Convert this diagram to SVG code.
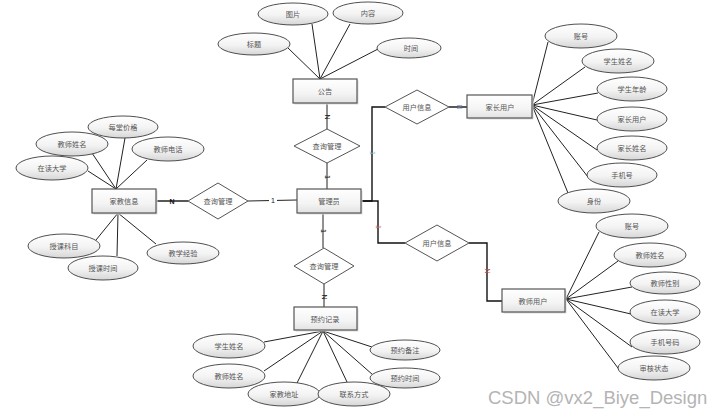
<svg xmlns="http://www.w3.org/2000/svg" width="720" height="417" viewBox="0 0 720 417">
<defs>
<linearGradient id="gE" x1="0" y1="0" x2="0" y2="1">
<stop offset="0" stop-color="#ffffff"/>
<stop offset="0.55" stop-color="#f3f3f3"/>
<stop offset="1" stop-color="#d6d6d6"/>
</linearGradient>
<linearGradient id="gR" x1="0" y1="0" x2="0" y2="1">
<stop offset="0" stop-color="#ffffff"/>
<stop offset="0.6" stop-color="#f4f4f4"/>
<stop offset="1" stop-color="#e2e2e2"/>
</linearGradient>
</defs>
<style>
.e{fill:url(#gE);stroke:#3c3c3c;stroke-width:0.9}
.r{fill:url(#gR);stroke:#555;stroke-width:1.2}
.sh{fill:#dcdcdc}
.d{fill:#ffffff;stroke:#555;stroke-width:1}
.t{font-family:"Noto Sans CJK SC","Noto Sans CJK JP",sans-serif;font-size:7.2px;fill:#555;text-anchor:middle;dominant-baseline:central}
.c line,.c polyline{stroke:#222;stroke-width:1;fill:none}
.c .b{stroke:#111;stroke-width:1.4}
.l{font-family:"Liberation Sans",Arial,sans-serif;font-size:7px;fill:#111;text-anchor:middle;dominant-baseline:central}
.wm{font-family:"Liberation Sans",Arial,sans-serif;font-size:18.5px;fill:#b4b4b4}
</style>
<rect width="720" height="417" fill="#ffffff"/>

<g id="connectors" class="c">
<line x1="312" y1="24" x2="320" y2="79"/>
<line x1="350" y1="24" x2="320" y2="79"/>
<line x1="288" y1="48" x2="320" y2="79"/>
<line x1="378" y1="49" x2="320" y2="79"/>
<line x1="327" y1="103" x2="327" y2="129"/>
<line x1="327" y1="163" x2="327" y2="189"/>
<line class="b" x1="156" y1="201" x2="188" y2="201"/>
<line x1="248" y1="201" x2="297" y2="200"/>
<line x1="323" y1="213" x2="323" y2="248"/>
<line x1="324" y1="284" x2="324" y2="307"/>
<polyline class="b" points="361,201 372,201 372,107 385,107"/>
<line class="b" x1="449" y1="107" x2="467" y2="107"/>
<polyline class="b" points="361,201 378,201 378,243 405,243"/>
<polyline class="b" points="469,243 487,243 487,301 502,301"/>
<line x1="125" y1="138" x2="116" y2="189"/>
<line x1="92" y1="153" x2="116" y2="189"/>
<line x1="147" y1="160" x2="116" y2="189"/>
<line x1="88" y1="171" x2="116" y2="189"/>
<line x1="118" y1="213" x2="96" y2="240"/>
<line x1="118" y1="213" x2="117" y2="256"/>
<line x1="118" y1="213" x2="156" y2="244"/>
<line x1="532" y1="105" x2="548" y2="42"/>
<line x1="532" y1="105" x2="585" y2="67"/>
<line x1="532" y1="105" x2="598" y2="93"/>
<line x1="532" y1="105" x2="597" y2="120"/>
<line x1="532" y1="105" x2="597" y2="150"/>
<line x1="532" y1="105" x2="588" y2="177"/>
<line x1="532" y1="105" x2="568" y2="193"/>
<line x1="566" y1="299" x2="599" y2="232"/>
<line x1="566" y1="299" x2="618" y2="261"/>
<line x1="566" y1="299" x2="632" y2="287"/>
<line x1="566" y1="299" x2="631" y2="314"/>
<line x1="566" y1="299" x2="632" y2="347"/>
<line x1="566" y1="299" x2="621" y2="372"/>
<line x1="323" y1="331" x2="264" y2="342"/>
<line x1="323" y1="331" x2="264" y2="371"/>
<line x1="323" y1="331" x2="297" y2="383"/>
<line x1="323" y1="331" x2="347" y2="382"/>
<line x1="323" y1="331" x2="372" y2="347"/>
<line x1="323" y1="331" x2="373" y2="375"/>
<text class="l" transform="translate(327,117) rotate(90)">N</text>
<text class="l" transform="translate(327,177) rotate(90)">1</text>
<text class="l" x="172" y="201" font-weight="bold">N</text>
<rect x="269" y="196" width="8" height="8" fill="#fff"/>
<text class="l" x="273" y="200">1</text>
<text class="l" transform="translate(323,231) rotate(90)">1</text>
<text class="l" transform="translate(324,297) rotate(90)">N</text>
<text class="l" transform="translate(372,153) rotate(90)" style="fill:#7fc6d8">1</text>
<text class="l" transform="translate(459,107) rotate(90)" style="fill:#8f9fc8">N</text>
<text class="l" transform="translate(378,227) rotate(90)" style="fill:#d07878">1</text>
<text class="l" transform="translate(487,271) rotate(90)" style="fill:#c05050">N</text>
</g>

<g id="notice"><rect class="sh" x="294.5" y="80.5" width="64" height="24"/><rect class="r" x="293" y="79" width="64" height="24"/><text class="t" x="325" y="91">公告</text></g>
<g id="admin"><rect class="sh" x="298.5" y="190.5" width="64" height="24"/><rect class="r" x="297" y="189" width="64" height="24"/><text class="t" x="329" y="201">管理员</text></g>
<g id="tutorinfo"><rect class="sh" x="93.5" y="190.5" width="64" height="24"/><rect class="r" x="92" y="189" width="64" height="24"/><text class="t" x="124" y="201">家教信息</text></g>
<g id="booking"><rect class="sh" x="295.5" y="308.5" width="63" height="23"/><rect class="r" x="294" y="307" width="63" height="23"/><text class="t" x="325" y="318.5">预约记录</text></g>
<g id="parentuser"><rect class="sh" x="468.5" y="96.5" width="65" height="23"/><rect class="r" x="467" y="95" width="65" height="23"/><text class="t" x="500" y="106.5">家长用户</text></g>
<g id="teacheruser"><rect class="sh" x="503.5" y="290.5" width="63" height="23"/><rect class="r" x="502" y="289" width="63" height="23"/><text class="t" x="533" y="300.5">教师用户</text></g>

<g id="rel-top"><polygon class="d" points="327,129 360,146 327,163 294,146"/><text class="t" x="327" y="146">查询管理</text></g>
<g id="rel-left"><polygon class="d" points="218,183 248,201 218,219 188,201"/><text class="t" x="218" y="201">查询管理</text></g>
<g id="rel-bottom"><polygon class="d" points="324,248 354,266 324,284 294,266"/><text class="t" x="324" y="266">查询管理</text></g>
<g id="rel-parent"><polygon class="d" points="417,90 449,107 417,124 385,107"/><text class="t" x="417" y="107">用户信息</text></g>
<g id="rel-teacher"><polygon class="d" points="437,225 469,243 437,261 405,243"/><text class="t" x="437" y="243">用户信息</text></g>

<g id="a-notice-pic"><ellipse class="e" cx="293" cy="14" rx="35" ry="11"/><text class="t" x="293" y="14">图片</text></g>
<g id="a-notice-content"><ellipse class="e" cx="368" cy="13" rx="35" ry="11"/><text class="t" x="368" y="13">内容</text></g>
<g id="a-notice-title"><ellipse class="e" cx="254" cy="44" rx="36" ry="11"/><text class="t" x="254" y="44">标题</text></g>
<g id="a-notice-time"><ellipse class="e" cx="409" cy="48" rx="32" ry="10"/><text class="t" x="411" y="48">时间</text></g>

<g id="a-ti-price"><ellipse class="e" cx="123" cy="127" rx="35" ry="11"/><text class="t" x="123" y="127">每堂价格</text></g>
<g id="a-ti-tname"><ellipse class="e" cx="72" cy="144" rx="36" ry="12"/><text class="t" x="72" y="144">教师姓名</text></g>
<g id="a-ti-tphone"><ellipse class="e" cx="168" cy="149" rx="36" ry="12"/><text class="t" x="168" y="149">教师电话</text></g>
<g id="a-ti-univ"><ellipse class="e" cx="52" cy="168" rx="36" ry="12"/><text class="t" x="52" y="168">在读大学</text></g>
<g id="a-ti-subject"><ellipse class="e" cx="64" cy="246" rx="36" ry="12"/><text class="t" x="64" y="246">授课科目</text></g>
<g id="a-ti-time"><ellipse class="e" cx="103" cy="268" rx="35" ry="12"/><text class="t" x="103" y="268">授课时间</text></g>
<g id="a-ti-exp"><ellipse class="e" cx="183" cy="253" rx="36" ry="11"/><text class="t" x="183" y="253">教学经验</text></g>

<g id="a-pu-acc"><ellipse class="e" cx="581" cy="36" rx="36" ry="12"/><text class="t" x="581" y="36">账号</text></g>
<g id="a-pu-sname"><ellipse class="e" cx="618" cy="61" rx="36" ry="12"/><text class="t" x="618" y="61">学生姓名</text></g>
<g id="a-pu-sage"><ellipse class="e" cx="632" cy="89" rx="35" ry="12"/><text class="t" x="632" y="89">学生年龄</text></g>
<g id="a-pu-user"><ellipse class="e" cx="632" cy="119" rx="35" ry="12"/><text class="t" x="632" y="119">家长用户</text></g>
<g id="a-pu-pname"><ellipse class="e" cx="632" cy="148" rx="35" ry="12"/><text class="t" x="632" y="148">家长姓名</text></g>
<g id="a-pu-phone"><ellipse class="e" cx="622" cy="175" rx="35" ry="12"/><text class="t" x="622" y="175">手机号</text></g>
<g id="a-pu-role"><ellipse class="e" cx="594" cy="201" rx="36" ry="12"/><text class="t" x="594" y="201">身份</text></g>

<g id="a-tu-acc"><ellipse class="e" cx="632" cy="226" rx="36" ry="12"/><text class="t" x="632" y="226">账号</text></g>
<g id="a-tu-name"><ellipse class="e" cx="650" cy="255" rx="36" ry="12"/><text class="t" x="650" y="255">教师姓名</text></g>
<g id="a-tu-sex"><ellipse class="e" cx="665" cy="283" rx="35" ry="11"/><text class="t" x="665" y="283">教师性别</text></g>
<g id="a-tu-univ"><ellipse class="e" cx="665" cy="312" rx="35" ry="12"/><text class="t" x="665" y="312">在读大学</text></g>
<g id="a-tu-phone"><ellipse class="e" cx="665" cy="342" rx="35" ry="12"/><text class="t" x="665" y="342">手机号码</text></g>
<g id="a-tu-status"><ellipse class="e" cx="654" cy="368" rx="36" ry="12"/><text class="t" x="654" y="368">审核状态</text></g>

<g id="a-bk-sname"><ellipse class="e" cx="229" cy="346" rx="36" ry="12"/><text class="t" x="229" y="346">学生姓名</text></g>
<g id="a-bk-tname"><ellipse class="e" cx="229" cy="376" rx="36" ry="12"/><text class="t" x="229" y="376">教师姓名</text></g>
<g id="a-bk-addr"><ellipse class="e" cx="284" cy="394" rx="36" ry="12"/><text class="t" x="284" y="394">家教地址</text></g>
<g id="a-bk-contact"><ellipse class="e" cx="354" cy="394" rx="36" ry="12"/><text class="t" x="354" y="394">联系方式</text></g>
<g id="a-bk-note"><ellipse class="e" cx="405" cy="350" rx="35" ry="10"/><text class="t" x="405" y="350">预约备注</text></g>
<g id="a-bk-time"><ellipse class="e" cx="405" cy="378" rx="35" ry="10"/><text class="t" x="405" y="378">预约时间</text></g>

<text class="wm" x="488" y="404">CSDN @vx2_Biye_Design</text>
</svg>
